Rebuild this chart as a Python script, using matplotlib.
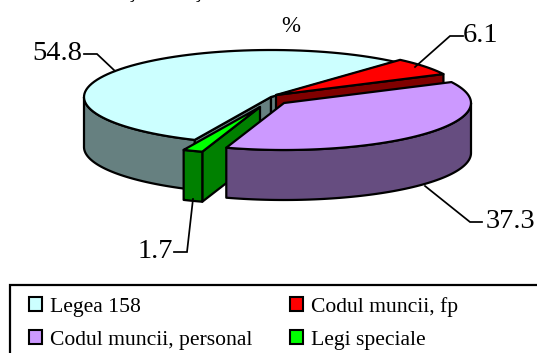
import numpy as np
import matplotlib
matplotlib.use("Agg")
import matplotlib.pyplot as plt
from matplotlib.patches import Polygon, Rectangle, Patch

plt.rcParams['font.family'] = ['Liberation Serif', 'DejaVu Sans']

# data
categories = ["Legea 158", "Codul muncii, fp", "Codul muncii, personal", "Legi speciale"]
values = [54.8, 6.1, 37.3, 1.7]
value_labels = ["54.8", "6.1", "37.3", "1.7"]
unit_label = "%"

# style
top_colors = ["#CCFFFF", "#FF0000", "#CC99FF", "#00FF00"]
side_colors = ["#668080", "#800000", "#664D80", "#008000"]
apexes = [(271, 97), (276, 95), (284, 103), (260, 107)]
draw_order = [0, 1, 3, 2]
RX, RY, DEPTH = 187, 47, 50
START = 245.9
LW = 1.6
EK = dict(edgecolor="black", linewidth=LW, joinstyle="round")

fig = plt.figure(figsize=(5.37, 3.53), dpi=100, facecolor="white")
ax = fig.add_axes([0, 0, 1, 1])
ax.set_xlim(0, 537)
ax.set_ylim(353, 0)
ax.axis("off")


def pt(apex, deg, down=0.0):
    t = np.radians(deg)
    return apex[0] + RX * np.cos(t), apex[1] - RY * np.sin(t) + down


def arc(apex, a, b, down=0.0):
    ts = np.linspace(a, b, 80)
    return [pt(apex, d, down) for d in ts]


def wall(apex, deg, color):
    p = pt(apex, deg)
    q = pt(apex, deg, DEPTH)
    poly = [apex, p, q, (apex[0], apex[1] + DEPTH)]
    ax.add_patch(Polygon(poly, closed=True, facecolor=color, **EK))


# clockwise from START: each slice spans [START - cum - sweep, START - cum]
sweeps = [v / sum(values) * 360 for v in values]
spans = []
cur = START
for s in sweeps:
    spans.append((cur - s, cur))
    cur -= s

for i in draw_order:
    lo, hi = spans[i]
    apex = apexes[i]
    # normalise into a range where the front half (180..360) is easy to find
    while lo < 0:
        lo += 360
        hi += 360
    side, top = side_colors[i], top_colors[i]
    # radial walls that face the viewer
    if i == 0:
        wall(apex, hi, side)
        wall(apex, lo, side)
    elif i == 1:
        wall(apex, lo, side)
    elif i == 3:
        wall(apex, hi, side)
    # outer rim, front part only
    a, b = max(lo, 180), min(hi, 360)
    if b > a:
        rim = arc(apex, a, b) + arc(apex, b, a, DEPTH)
        ax.add_patch(Polygon(rim, closed=True, facecolor=side, **EK))
    # top face
    ax.add_patch(Polygon([apex] + arc(apex, lo, hi), closed=True, facecolor=top, **EK))

# value labels and leader lines
label_xy = [(57, 54), (481, 36), (510, 222), (155, 252)]
leaders = [
    ([84, 97, 115], [54, 54, 71]),
    ([463, 450, 415], [36, 36, 67]),
    ([425, 470, 482], [186, 222, 222]),
    ([193, 187, 174], [199, 252, 252]),
]
for txt, (x, y), (lx, ly) in zip(value_labels, label_xy, leaders):
    ax.plot(lx, ly, color="black", lw=1.25, solid_joinstyle="miter")
    ax.text(x, y, txt, fontsize=20.5, ha="center", va="center", color="black")

ax.text(291, 26, unit_label, fontsize=16.5, ha="center", va="center", color="black")

# remains of the title line, cut by the top edge
for x in (132, 198):
    ax.text(x, -2.5, "\u0163", fontsize=14.5, ha="center", va="baseline", color="black")

# legend frame runs past the canvas on the right and at the bottom
ax.add_patch(Rectangle((10, 285), 700, 200, facecolor="white", edgecolor="black", linewidth=1.6))
handles = [Patch(facecolor=top_colors[i], edgecolor="black", linewidth=1.5) for i in (0, 2, 1, 3)]
labels = [categories[i] for i in (0, 2, 1, 3)]
ax.legend(handles, labels, ncol=2, frameon=False, fontsize=15.6,
          loc="upper left", bbox_to_anchor=(28.5, 297), bbox_transform=ax.transData,
          borderaxespad=0, borderpad=0, handlelength=0.6, handleheight=0.6,
          handletextpad=0.38, columnspacing=1.75, labelspacing=0.62)

fig.savefig("out.png", dpi=100, facecolor="white")
